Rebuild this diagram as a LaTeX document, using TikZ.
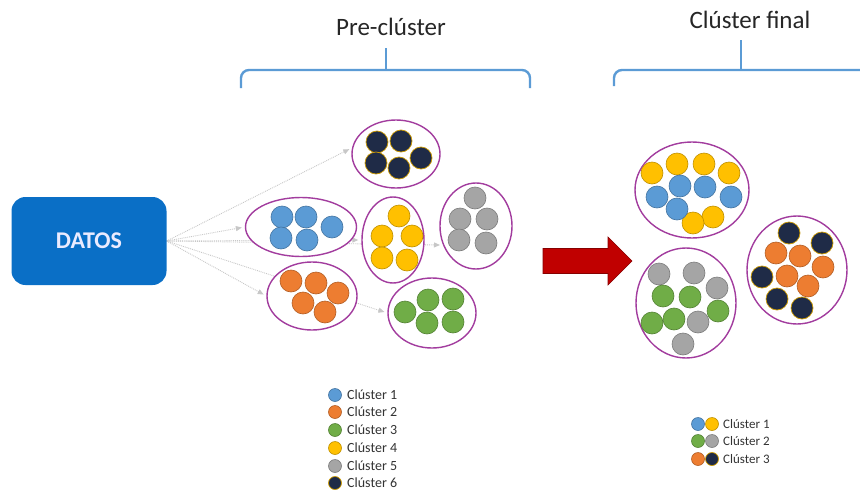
\documentclass[tikz,border=0pt]{standalone}
\usepackage{fontspec}
\setmainfont{Carlito}
\usepackage{tikz}
\usetikzlibrary{positioning, arrows.meta, shapes.geometric, calc, backgrounds}

\definecolor{datosblue}{HTML}{0A6FC6}
\definecolor{bracket}{HTML}{5B9BD5}
\definecolor{ring}{HTML}{A23C9E}
\definecolor{cblue}{HTML}{5B9BD5}
\definecolor{corange}{HTML}{ED7D31}
\definecolor{cgreen}{HTML}{70AD47}
\definecolor{cyellow}{HTML}{FFC000}
\definecolor{cgray}{HTML}{A5A5A5}
\definecolor{cdark}{HTML}{1F2B47}
\definecolor{redarrow}{HTML}{C00000}

\tikzset{
    ring/.style={ellipse, draw=ring, line width=1.4pt, fill=white, inner sep=0pt},
    flow/.style={draw=black!22, densely dotted, line width=0.9pt, -{Triangle[length=6pt,width=5pt]}},
    dot1/.style={fill=cblue, draw=cblue!75!black, line width=0.6pt},
    dot2/.style={fill=corange, draw=corange!75!black, line width=0.6pt},
    dot3/.style={fill=cgreen, draw=cgreen!75!black, line width=0.6pt},
    dot4/.style={fill=cyellow, draw=cyellow!75!black, line width=0.6pt},
    dot5/.style={fill=cgray, draw=cgray!75!black, line width=0.6pt},
    dot6/.style={fill=cdark, draw=cyellow!80!black, line width=0.7pt},
    legend/.style={anchor=west, inner sep=0pt, font=\fontsize{14}{16}\selectfont, text=black!80},
    title/.style={font=\fontsize{25}{28}\selectfont, text=black!85}
}

\begin{document}
\begin{tikzpicture}[x=1pt, y=-1pt]
        \def\r{11pt}
        \def\rl{6.5pt}

        \useasboundingbox (0,0) rectangle (860,490);

        % source box
        \node[fill=datosblue, rounded corners=14pt, minimum width=155pt, minimum height=88pt,
              text=white!92!blue, font=\fontsize{24}{26}\selectfont\bfseries] (datos) at (89,241) {DATOS};

        % pre-cluster rings
        \node[ring, minimum width=88pt, minimum height=68pt] (c6) at (396,154) {};
        \node[ring, minimum width=111pt, minimum height=59pt] (c1) at (301,227) {};
        \node[ring, minimum width=90pt, minimum height=68pt] (c2) at (312,296) {};
        \node[ring, minimum width=62pt, minimum height=86pt] (c4) at (393,240) {};
        \node[ring, minimum width=72pt, minimum height=86pt] (c5) at (476,226) {};
        \node[ring, minimum width=88pt, minimum height=70pt] (c3) at (432,313) {};

        % dotted links, kept under the rings
        \begin{scope}[on background layer]
        \foreach \target in {c6.172, c1.west, c4.west, c5.210, c2.west, c3.west}
        {
            \path[flow, shorten >=3pt] (datos.east) -- (\target);
        }
        \end{scope}

        % pre-cluster dots
        \foreach \x/\y in {377/142, 401/141, 376/163, 399/168, 421/158}
            \draw[dot6] (\x,\y) circle (\r);
        \foreach \x/\y in {282/217, 306/217, 332/227, 281/238, 307/240}
            \draw[dot1] (\x,\y) circle (\r);
        \foreach \x/\y in {291/281, 316/283, 338/293, 303/303, 325/312}
            \draw[dot2] (\x,\y) circle (\r);
        \foreach \x/\y in {399/216, 382/236, 412/236, 382/258, 407/260}
            \draw[dot4] (\x,\y) circle (\r);
        \foreach \x/\y in {475/198, 460/219, 487/219, 459/240, 486/243}
            \draw[dot5] (\x,\y) circle (\r);
        \foreach \x/\y in {405/312, 428/300, 453/299, 427/323, 453/322}
            \draw[dot3] (\x,\y) circle (\r);

        % big arrow
        \coordinate (tail) at (543,261);
        \coordinate (tip) at (632,261);
        \draw[fill=redarrow, draw=redarrow!70!black, line width=0.6pt]
            ($(tail)+(0,-12.5)$) -- ($(tip)+(-24,-12.5)$) -- ($(tip)+(-24,-24)$) -- (tip)
            -- ($(tip)+(-24,24)$) -- ($(tip)+(-24,12.5)$) -- ($(tail)+(0,12.5)$) -- cycle;

        % final rings
        \node[ring, minimum width=114pt, minimum height=96pt] (f1) at (692,190) {};
        \node[ring, minimum width=100pt, minimum height=110pt] (f2) at (686,303) {};
        \node[ring, minimum width=100pt, minimum height=108pt] (f3) at (797,270) {};

        % final dots
        \foreach \x/\y in {652/173, 677/164, 704/164, 729/173, 713/217, 693/223}
            \draw[dot4] (\x,\y) circle (\r);
        \foreach \x/\y in {680/186, 705/187, 657/197, 731/197, 677/209}
            \draw[dot1] (\x,\y) circle (\r);
        \foreach \x/\y in {659/274, 694/273, 717/288, 698/322, 683/344}
            \draw[dot5] (\x,\y) circle (\r);
        \foreach \x/\y in {663/296, 690/297, 718/311, 652/323, 674/319}
            \draw[dot3] (\x,\y) circle (\r);
        \foreach \x/\y in {789/233, 822/243, 762/277, 777/299, 802/308}
            \draw[dot6] (\x,\y) circle (\r);
        \foreach \x/\y in {776/253, 800/256, 823/267, 787/276, 808/286}
            \draw[dot2] (\x,\y) circle (\r);

        % brackets
        \draw[bracket, line width=2.4pt, rounded corners=8pt] (241,88) -- (241,70) -- (530,70) -- (530,88);
        \draw[bracket, line width=2.4pt] (386,70) -- (386,48);
        \draw[bracket, line width=2.4pt, rounded corners=8pt] (614,86) -- (614,70) -- (862,70);
        \draw[bracket, line width=2.4pt] (741,70) -- (741,40);

        \node[title] (pretitle) at (391,27) {Pre-clúster};
        \node[title] (fintitle) at (750,20) {Clúster final};

        % legend of the pre-clusters
        \foreach \i/\y in {1/395, 2/412, 3/430, 4/448, 5/466, 6/483}
        {
            \draw[dot\i] (335,\y) circle (\rl);
            \node[legend] (pl\i) at (347,\y) {Clúster \i};
        }

        % legend of the final clusters
        \foreach \i/\y/\a/\b in {1/424/1/4, 2/441/3/5, 3/459/2/6}
        {
            \draw[dot\a] (698,\y) circle (\rl);
            \draw[dot\b] (712,\y) circle (\rl);
            \node[legend, font=\fontsize{13}{15}\selectfont] (fl\i) at (723,\y) {Clúster \i};
        }
    \end{tikzpicture}
\end{document}
